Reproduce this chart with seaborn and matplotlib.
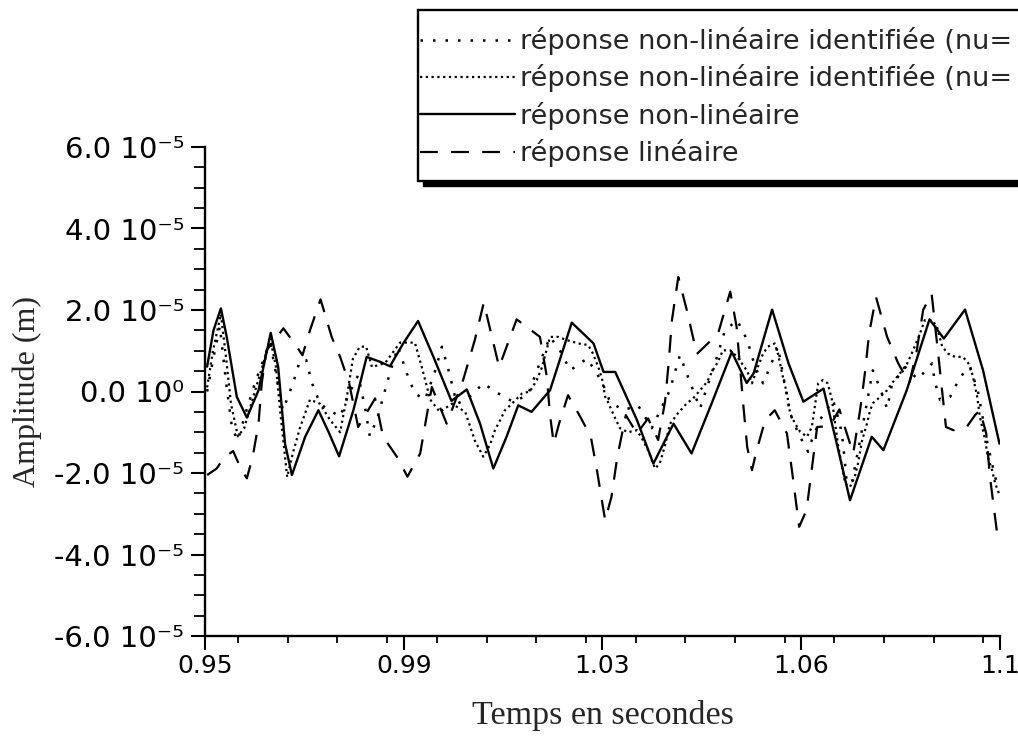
import numpy as np
import matplotlib
matplotlib.use("Agg")
import matplotlib.pyplot as plt
from matplotlib.ticker import MultipleLocator, FixedLocator
from matplotlib.patches import Rectangle
import seaborn as sns

# ---- data (amplitudes in units of 1e-5 m) ----
t_nl = [0.9504, 0.9516, 0.9530, 0.9541, 0.9560, 0.9579, 0.9601, 0.9624, 0.9638, 0.9651,
        0.9664, 0.9689, 0.9714, 0.9733, 0.9753, 0.9780, 0.9805, 0.9830, 0.9849, 0.9874,
        0.9902, 0.9931, 0.9965, 0.9994, 1.0019, 1.0044, 1.0069, 1.0091, 1.0116, 1.0151,
        1.0192, 1.0233, 1.0252, 1.0274, 1.0315, 1.0346, 1.0384, 1.0418, 1.0456, 1.0494,
        1.0522, 1.0535, 1.0570, 1.0601, 1.0629, 1.0667, 1.0692, 1.0717, 1.0758, 1.0780,
        1.0824, 1.0867, 1.0894, 1.0934, 1.0968, 1.0999]
a_nl = [0.61, 1.5, 2.04, 1.34, -0.13, -0.64, 0.03, 1.44, 0.61, -1.28,
        -2.05, -1.11, -0.46, -0.99, -1.59, -0.46, 0.85, 0.73, 0.62, 1.18,
        1.73, 0.85, -0.23, 0.05, -0.79, -1.89, -1.11, -0.34, -0.5, 0.03,
        1.69, 1.18, 0.48, 0.48, -0.7, -1.77, -0.79, -1.52, -0.29, 0.97,
        0.21, 0.44, 2.01, 0.69, -0.25, 0.07, -1.28, -2.67, -1.11, -1.44,
        0.03, 1.77, 1.3, 2.01, 0.52, -1.28]

t_lin = [0.9504, 0.9522, 0.9535, 0.9553, 0.9569, 0.9579, 0.9590, 0.9601, 0.9607, 0.9616,
         0.9648, 0.9673, 0.9684, 0.9698, 0.9718, 0.9739, 0.9755, 0.9772, 0.9789, 0.9821,
         0.9836, 0.9862, 0.9882, 0.9906, 0.9918, 0.9928, 0.9956, 0.9987, 1.0009, 1.0026,
         1.0055, 1.0088, 1.0132, 1.0145, 1.0151, 1.0158, 1.0168, 1.0185, 1.0208, 1.0228,
         1.0240, 1.0255, 1.0267, 1.0278, 1.0294, 1.0315, 1.0336, 1.0355, 1.0368, 1.0375,
         1.0381, 1.0393, 1.0409, 1.0428, 1.0468, 1.0491, 1.0503, 1.0516, 1.0523, 1.0532,
         1.0541, 1.0557, 1.0575, 1.0598, 1.0609, 1.0621, 1.0635, 1.0645, 1.0655, 1.0679,
         1.0697, 1.0709, 1.0723, 1.0736, 1.0745, 1.0753, 1.0766, 1.0787, 1.0808, 1.0829,
         1.0843, 1.0855, 1.0871, 1.0884, 1.0898, 1.0912, 1.0937, 1.0953, 1.0962, 1.0974,
         1.0981, 1.0989, 1.0997]
a_lin = [-2.05, -1.89, -1.64, -1.46, -1.93, -2.13, -1.6, -0.79, 0.2, 1.01,
         1.55, 1.1, 0.89, 1.5, 2.26, 1.34, 0.85, 0.2, -0.87, -0.17,
         -1.11, -1.6, -2.09, -1.52, -0.62, 0.11, -0.79, 0.28, 1.26, 2.18,
         0.6, 1.77, 1.34, 0.36, -0.58, -1.28, -0.79, -0.09, -0.62, -1.11,
         -1.97, -3.16, -2.58, -1.6, -0.58, -1.03, -0.66, -1.19, -0.25, 0.73,
         1.75, 2.81, 2.0, 0.92, 1.42, 2.45, 1.59, -0.38, -1.36, -1.93,
         -1.44, -0.7, -0.46, -1.03, -2.09, -3.32, -2.91, -1.89, -0.87, -0.85,
         -0.44, -0.95, -1.52, -0.46, 0.44, 1.42, 2.32, 1.34, 0.69, 0.2,
         1.01, 2.0, 2.4, 0.85, -0.87, -0.95, -0.87, -0.58, -0.46, -1.03,
         -2.09, -2.91, -3.73]

t_id1 = [0.9504, 0.9517, 0.9528, 0.9540, 0.9551, 0.9562, 0.9575, 0.9594, 0.9608, 0.9623,
         0.9636, 0.9647, 0.9666, 0.9679, 0.9691, 0.9702, 0.9717, 0.9730, 0.9755, 0.9770,
         0.9789, 0.9802, 0.9811, 0.9825, 0.9845, 0.9864, 0.9881, 0.9896, 0.9915, 0.9934,
         0.9947, 0.9958, 0.9975, 0.9994, 1.0025, 1.0047, 1.0081, 1.0109, 1.0136, 1.0151,
         1.0170, 1.0189, 1.0221, 1.0249, 1.0264, 1.0289, 1.0317, 1.0343, 1.0377, 1.0396,
         1.0409, 1.0434, 1.0468, 1.0481, 1.0504, 1.0523, 1.0538, 1.0553, 1.0566, 1.0581,
         1.0604, 1.0617, 1.0626, 1.0638, 1.0645, 1.0660, 1.0685, 1.0698, 1.0704, 1.0711,
         1.0721, 1.0736, 1.0760, 1.0774, 1.0787, 1.0796, 1.0821, 1.0845, 1.0872, 1.0877,
         1.0887, 1.0906, 1.0925, 1.0943, 1.0958, 1.0975, 1.0985, 1.0994]
a_id1 = [0.0, 0.9, 1.6, 0.2, -0.9, -1.2, -0.6, 0.2, 0.7, 1.2,
         0.3, -0.46, 0.2, 0.75, 0.77, 0.2, -0.3, -0.42, -0.62, -0.1,
         0.4, -0.4, -1.1, -0.66, 0.28, 1.1, 0.44, -0.05, -0.2, 0.5,
         1.1, 0.6, -0.3, -0.2, 0.2, 0.0, -0.25, -0.09, 0.85, 1.34,
         1.0, 0.52, 0.81, 0.24, -0.25, -0.46, -0.34, -0.9, 0.03, 0.89,
         0.44, -0.42, 0.93, 1.5, 1.75, 1.26, 0.6, 0.2, 0.6, 1.1,
         -0.54, -0.95, -1.19, -1.48, -1.19, -0.7, -0.21, -0.79, -1.28, -2.26,
         -2.2, -1.2, 0.52, 0.07, -0.42, 0.16, 0.6, 0.3, 0.69, 0.24,
         -0.21, -0.13, 0.36, 0.6, 0.03, -1.19, -1.77, -2.26]

t_id2 = [0.9504, 0.9515, 0.9530, 0.9540, 0.9549, 0.9562, 0.9574, 0.9594, 0.9608, 0.9623,
         0.9634, 0.9642, 0.9651, 0.9655, 0.9666, 0.9679, 0.9698, 0.9717, 0.9736, 0.9755,
         0.9768, 0.9779, 0.9792, 0.9804, 0.9815, 0.9840, 0.9868, 0.9896, 0.9909, 0.9925,
         0.9943, 0.9966, 0.9991, 1.0009, 1.0025, 1.0038, 1.0047, 1.0057, 1.0066, 1.0079,
         1.0098, 1.0113, 1.0126, 1.0136, 1.0151, 1.0166, 1.0183, 1.0204, 1.0223, 1.0232,
         1.0242, 1.0249, 1.0255, 1.0260, 1.0274, 1.0283, 1.0298, 1.0315, 1.0326, 1.0336,
         1.0349, 1.0358, 1.0368, 1.0377, 1.0392, 1.0409, 1.0421, 1.0434, 1.0447, 1.0458,
         1.0468, 1.0477, 1.0491, 1.0504, 1.0513, 1.0523, 1.0532, 1.0543, 1.0553, 1.0562,
         1.0575, 1.0581, 1.0589, 1.0598, 1.0604, 1.0613, 1.0623, 1.0636, 1.0645, 1.0657,
         1.0666, 1.0675, 1.0683, 1.0689, 1.0694, 1.0702, 1.0708, 1.0717, 1.0726, 1.0732,
         1.0740, 1.0749, 1.0755, 1.0760, 1.0774, 1.0787, 1.0796, 1.0811, 1.0825, 1.0836,
         1.0849, 1.0858, 1.0872, 1.0881, 1.0891, 1.0902, 1.0915, 1.0930, 1.0943, 1.0949,
         1.0957, 1.0962, 1.0972, 1.0977, 1.0985, 1.0991, 1.0998]
a_id2 = [0.1, 1.0, 1.9, 0.8, -0.3, -1.1, -0.9, 0.0, 0.6, 1.3,
         0.6, -0.5, -1.6, -2.1, -1.5, -0.9, -0.2, -0.3, -0.7, -1.0,
         -0.1, 0.8, 1.1, 1.1, 0.6, 0.7, 1.2, 1.2, 0.6, -0.2,
         -0.5, -0.3, -0.5, -1.2, -1.6, -1.3, -0.95, -0.7, -0.46, -0.3,
         -0.05, 0.0, 0.28, 0.6, 1.34, 1.34, 1.26, 1.18, 1.14, 0.93,
         0.6, 0.32, -0.13, -0.25, -0.66, -0.9, -1.0, -0.95, -1.19, -1.44,
         -1.89, -1.77, -1.32, -0.8, -0.54, -0.29, -0.17, 0.03, 0.23, 0.52,
         0.73, 1.01, 1.01, 0.85, 0.69, 0.5, 0.2, 0.6, 0.93, 1.1,
         1.18, 0.93, 0.44, -0.05, -0.54, -0.78, -0.99, -1.11, -0.87, 0.2,
         0.28, 0.2, -0.21, -0.79, -1.28, -1.85, -2.26, -2.34, -2.09, -1.77,
         -1.19, -0.79, -0.46, -0.29, -0.13, 0.03, 0.2, 0.44, 0.69, 1.01,
         1.42, 1.75, 1.75, 1.59, 1.1, 0.93, 0.85, 0.85, 0.65, 0.36,
         -0.13, -0.62, -1.19, -1.61, -1.93, -2.26, -2.5]

labels = ["réponse non-linéaire identifiée (nu=",
          "réponse non-linéaire identifiée (nu=",
          "réponse non-linéaire",
          "réponse linéaire"]
xticks = [0.95, 0.9875, 1.025, 1.0625, 1.1]
xtick_labels = ["0.95", "0.99", "1.03", "1.06", "1.1"]
yticks = [-6e-5, -4e-5, -2e-5, 0.0, 2e-5, 4e-5, 6e-5]
ytick_labels = ["-6.0 10⁻⁵", "-4.0 10⁻⁵", "-2.0 10⁻⁵", "0.0 10⁰",
                "2.0 10⁻⁵", "4.0 10⁻⁵", "6.0 10⁻⁵"]
scale = 1e-5

# ---- style ----
sns.set_style("ticks")
plt.rcParams["font.family"] = ["DejaVu Sans"]

fig = plt.figure(figsize=(10.18, 7.42), dpi=100)
ax = fig.add_axes([205 / 1018, 1 - 636 / 742, 795 / 1018, (636 - 147) / 742])

series = [
    (t_id1, a_id1, dict(linestyle=(0, (1, 4)), lw=1.8)),
    (t_id2, a_id2, dict(linestyle=(0, (1, 1.6)), lw=1.6)),
    (t_nl, a_nl, dict(linestyle="-", lw=1.7)),
    (t_lin, a_lin, dict(linestyle=(0, (8, 6)), lw=1.6)),
]
handles = []
for (t, a, kw), lab in zip(series, labels):
    sns.lineplot(x=np.array(t), y=np.array(a) * scale, ax=ax, color="black",
                 estimator=None, sort=False, **kw)
    handles.append(ax.lines[-1])

ax.set_xlim(0.95, 1.1)
ax.set_ylim(-6e-5, 6e-5)
ax.xaxis.set_major_locator(FixedLocator(xticks))
ax.set_xticklabels(xtick_labels)
ax.xaxis.set_minor_locator(MultipleLocator(0.0375 / 4))
ax.yaxis.set_major_locator(FixedLocator(yticks))
ax.set_yticklabels(ytick_labels)
ax.yaxis.set_minor_locator(MultipleLocator(0.5e-5))

for side in ["top", "right"]:
    ax.spines[side].set_visible(False)
for side in ["left", "bottom"]:
    ax.spines[side].set_color("black")
    ax.spines[side].set_linewidth(1.7)

ax.tick_params(axis="both", which="major", direction="out", length=10, width=1.5,
               colors="black")
ax.tick_params(axis="y", which="minor", direction="out", length=8, width=1.3, colors="black")
ax.tick_params(axis="x", which="minor", direction="out", length=5, width=1.3, colors="black")
ax.tick_params(axis="x", which="major", pad=3, labelsize=18)
ax.tick_params(axis="y", which="major", pad=5, labelsize=21)

ax.set_xlabel("Temps en secondes", family=["Liberation Serif"], fontsize=24.5, labelpad=16)
ax.set_ylabel("Amplitude (m)", family=["Liberation Serif"], fontsize=23)
ax.yaxis.set_label_coords(-0.205, 0.5)

# ---- legend box with shadow ----
W, H = 1018.0, 742.0
box_x0, box_top, box_bot = 418, 10, 181
fig.patches.append(Rectangle((box_x0 / W + 5 / W, 1 - (box_bot + 5) / H), 0.7,
                             (box_bot - box_top) / H, transform=fig.transFigure,
                             facecolor="black", edgecolor="black", zorder=1))
fig.patches.append(Rectangle((box_x0 / W, 1 - box_bot / H), 0.7,
                             (box_bot - box_top) / H, transform=fig.transFigure,
                             facecolor="white", edgecolor="black", lw=1.7, zorder=2))
leg = fig.legend(handles, labels, loc="upper left",
                 bbox_to_anchor=(420 / W, 1 - 27 / H), bbox_transform=fig.transFigure,
                 frameon=False, fontsize=19.5, handlelength=3.5, handletextpad=0.18,
                 labelspacing=0.35, borderpad=0, borderaxespad=0)
leg.set_zorder(5)

fig.savefig("out.png", dpi=100)
